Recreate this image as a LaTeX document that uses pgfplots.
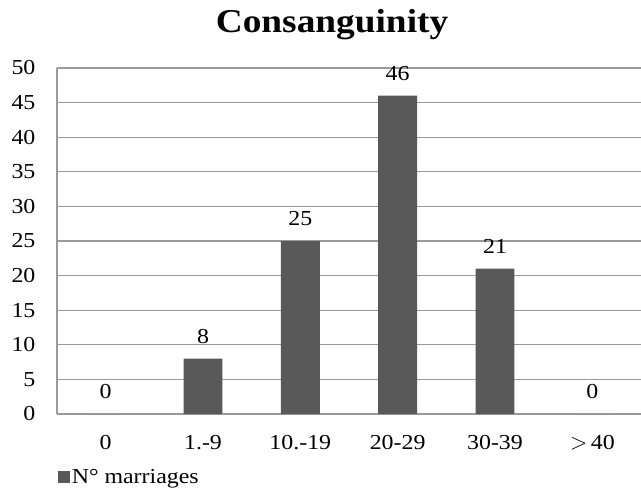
\documentclass[border=0pt]{standalone}
\usepackage{pgfplots}
\pgfplotsset{compat=1.18}
\usepackage{fontspec}
\setmainfont{Liberation Serif}[FakeStretch=1.12]
\definecolor{barc}{HTML}{595959}
\definecolor{gridc}{HTML}{9A9A9A}
\begin{document}
\begin{tikzpicture}
\path[use as bounding box] (-42.75pt,-58.5pt) rectangle (438pt,310.5pt);
\begin{axis}[
  scale only axis, width=438pt, height=259.5pt,
  xmin=-0.5, xmax=5.5, ymin=0, ymax=50,
  ytick={0,5,...,50},
  xtick={0,1,2,3,4,5},
  xticklabels={0,1.-9,10.-19,20-29,30-39,$>$\,40},
  axis x line*=bottom, axis y line*=left,
  axis line style={draw=gridc, line width=0.8pt},
  major tick length=0pt,
  ymajorgrids, grid style={draw=gridc, line width=0.8pt},
  /pgf/number format/assume math mode=true,
  tick label style={font=\fontsize{16}{18}\selectfont, inner sep=0pt},
  x tick label style={yshift=-15.5pt},
  y tick label style={xshift=-16pt},
  ybar, bar width=0.4,
  nodes near coords,
  every node near coord/.append style={font=\fontsize{16}{18}\selectfont, inner sep=0pt, yshift=11pt},
  legend style={at={(0.002,-0.182)}, anchor=west, draw=none, fill=none, inner sep=0pt,
    font=\fontsize{16}{18}\selectfont, nodes={inner sep=1pt}},
  legend image code/.code={\fill[barc] (0pt,-4.5pt) rectangle (9pt,4.5pt);},
  clip=false,
]
\addplot[fill=barc, draw=none] coordinates {(0,0) (1,8) (2,25) (3,46) (4,21) (5,0)};
\addlegendentry{N° marriages}
\node[anchor=base, font=\fontsize{25}{30}\selectfont\bfseries] at (axis description cs:0.471,1.104) {Consanguinity};
\end{axis}
\end{tikzpicture}
\end{document}
